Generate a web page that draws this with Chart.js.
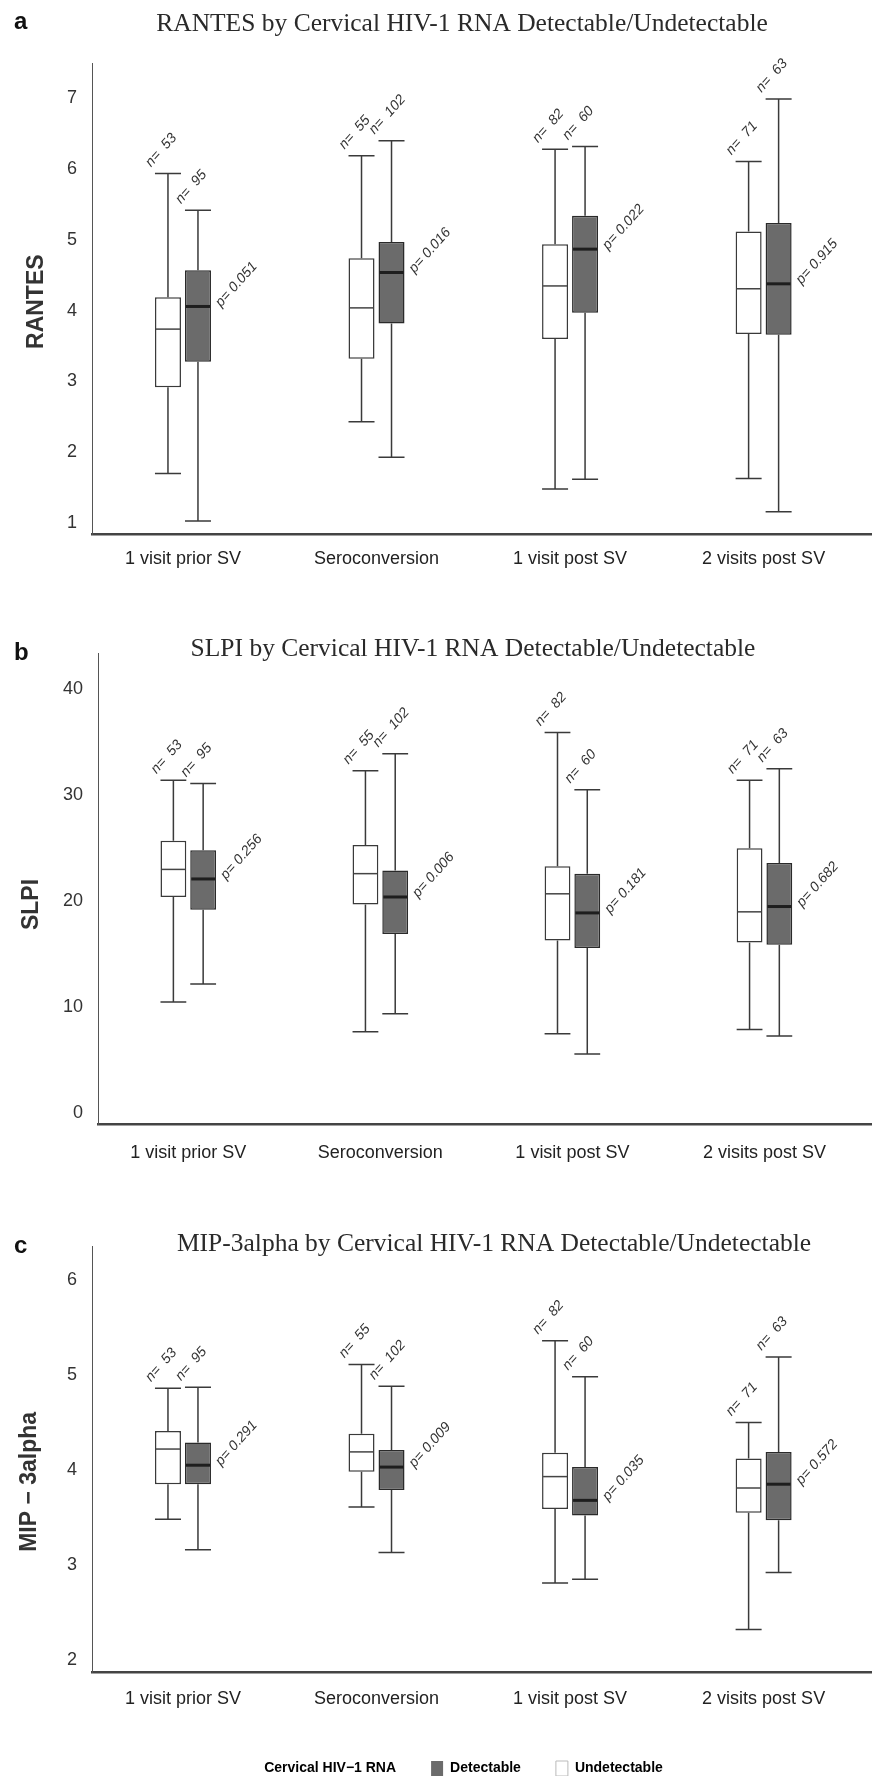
<!DOCTYPE html>
<html>
<head>
<meta charset="utf-8">
<script src="https://cdn.jsdelivr.net/npm/chart.js@4.4.0/dist/chart.umd.min.js"></script>
<style>
    html, body { margin: 0; padding: 0; background: #fff; }
    #page { position: relative; width: 872px; height: 1776px; }
    canvas { position: absolute; left: 0; }
</style>
</head>
<body>
<div id="page">
    <canvas id="rantesChart" width="872" height="600" style="top:0"></canvas>
    <canvas id="slpiChart" width="872" height="590" style="top:600px"></canvas>
    <canvas id="mipChart" width="872" height="586" style="top:1190px"></canvas>
</div>
<script>
(function () {
    'use strict';

    const categories = ['1 visit prior SV', 'Seroconversion', '1 visit post SV', '2 visits post SV'];
    const nUndetectable = [53, 55, 82, 71];
    const nDetectable = [95, 102, 60, 63];

    // each row: [lower whisker, Q1, median, Q3, upper whisker]
    const rantesUndetectable = [
        [1.70, 2.92, 3.74, 4.19, 5.94],
        [2.43, 3.32, 4.04, 4.74, 6.19],
        [1.48, 3.60, 4.35, 4.94, 6.28],
        [1.63, 3.67, 4.31, 5.12, 6.11]
    ];
    const rantesDetectable = [
        [1.03, 3.28, 4.06, 4.57, 5.42],
        [1.93, 3.82, 4.54, 4.97, 6.40],
        [1.62, 3.97, 4.87, 5.34, 6.32],
        [1.16, 3.66, 4.38, 5.24, 6.99]
    ];
    const rantesP = ['0.051', '0.016', '0.022', '0.915'];
    const rantesTicks = [1, 2, 3, 4, 5, 6, 7];

    const slpiUndetectable = [
        [10.5, 20.4, 23.0, 25.7, 31.4],
        [7.7, 19.7, 22.6, 25.3, 32.3],
        [7.5, 16.3, 20.7, 23.3, 35.9],
        [7.9, 16.1, 19.0, 25.0, 31.4]
    ];
    const slpiDetectable = [
        [12.2, 19.2, 22.1, 24.8, 31.1],
        [9.4, 16.9, 20.4, 22.9, 33.9],
        [5.6, 15.6, 18.9, 22.6, 30.5],
        [7.3, 15.9, 19.5, 23.6, 32.5]
    ];
    const slpiP = ['0.256', '0.006', '0.181', '0.682'];
    const slpiTicks = [0, 10, 20, 30, 40];

    const mipUndetectable = [
        [3.48, 3.85, 4.22, 4.41, 4.86],
        [3.61, 3.98, 4.19, 4.38, 5.11],
        [2.81, 3.59, 3.93, 4.18, 5.36],
        [2.32, 3.55, 3.81, 4.12, 4.50]
    ];
    const mipDetectable = [
        [3.16, 3.85, 4.05, 4.29, 4.87],
        [3.13, 3.79, 4.03, 4.21, 4.88],
        [2.85, 3.52, 3.68, 4.03, 4.98],
        [2.92, 3.47, 3.85, 4.19, 5.19]
    ];
    const mipP = ['0.291', '0.009', '0.035', '0.572'];
    const mipTicks = [2, 3, 4, 5, 6];

    const SANS = '"Liberation Sans", Arial, sans-serif';
    const SERIF = '"Liberation Serif", "Times New Roman", serif';
    const DARK_FILL = '#6b6b6b';
    const LINE = '#3a3a3a';

    Chart.defaults.font.family = SANS;
    Chart.defaults.color = '#333';

    function toBars(rows) {
        return rows.map(function (r, i) {
            return { x: i + 1, y: [r[1], r[3]] };
        });
    }

    function rotatedText(ctx, text, x, y) {
        ctx.save();
        ctx.translate(x, y);
        ctx.rotate(-0.84);
        ctx.font = 'italic 14px ' + SANS;
        ctx.fillStyle = '#333';
        ctx.textAlign = 'left';
        ctx.textBaseline = 'alphabetic';
        ctx.fillText(text, 0, 0);
        ctx.restore();
    }

    // whiskers, caps, medians and the n= / p= notes, placed on the bars the library laid out
    const boxExtras = {
        id: 'boxExtras',
        afterLayout(chart, args, opts) {
            // the source figure does not centre its titles on the plot, nudge them sideways
            if (opts.titleShift && chart.titleBlock) {
                chart.titleBlock.left += opts.titleShift;
                chart.titleBlock.right += opts.titleShift;
            }
            if (opts.legendShift && chart.legend) {
                chart.legend.left += opts.legendShift;
                chart.legend.right += opts.legendShift;
            }
        },
        afterDatasetsDraw(chart, args, opts) {
            const ctx = chart.ctx;
            const y = chart.scales.y;
            ctx.save();
            chart.data.datasets.forEach(function (ds, di) {
                const meta = chart.getDatasetMeta(di);
                meta.data.forEach(function (bar, i) {
                    const s = ds.stats[i];
                    const half = bar.width / 2;
                    const x = bar.x;
                    const yLo = y.getPixelForValue(s[0]);
                    const yQ1 = y.getPixelForValue(s[1]);
                    const yMed = y.getPixelForValue(s[2]);
                    const yQ3 = y.getPixelForValue(s[3]);
                    const yHi = y.getPixelForValue(s[4]);

                    ctx.strokeStyle = LINE;
                    ctx.lineWidth = 1.5;
                    ctx.beginPath();
                    ctx.moveTo(x, yQ3); ctx.lineTo(x, yHi);
                    ctx.moveTo(x, yQ1); ctx.lineTo(x, yLo);
                    ctx.moveTo(x - half, yHi); ctx.lineTo(x + half, yHi);
                    ctx.moveTo(x - half, yLo); ctx.lineTo(x + half, yLo);
                    ctx.stroke();

                    ctx.strokeStyle = ds.medianColor;
                    ctx.lineWidth = ds.medianWidth;
                    ctx.beginPath();
                    ctx.moveTo(x - half + 1, yMed); ctx.lineTo(x + half - 1, yMed);
                    ctx.stroke();

                    rotatedText(ctx, 'n=  ' + ds.counts[i], x - half - 4, yHi - 6);
                    if (ds.pValues) {
                        rotatedText(ctx, 'p= ' + ds.pValues[i], x + half + 10, yMed + 1);
                    }
                });
            });
            ctx.font = 'bold 24px ' + SANS;
            ctx.fillStyle = '#111';
            ctx.textBaseline = 'middle';
            ctx.textAlign = 'left';
            ctx.fillText(opts.letter, 14, opts.letterY);
            ctx.restore();
        }
    };

    function boxChart(id, cfg) {
        return new Chart(document.getElementById(id), {
            type: 'bar',
            data: {
                datasets: [{
                    label: 'Undetectable',
                    data: toBars(cfg.und),
                    stats: cfg.und,
                    counts: nUndetectable,
                    backgroundColor: '#ffffff',
                    borderColor: LINE,
                    borderWidth: 1.5,
                    borderSkipped: false,
                    medianColor: '#444',
                    medianWidth: 1.5
                }, {
                    label: 'Detectable',
                    data: toBars(cfg.det),
                    stats: cfg.det,
                    counts: nDetectable,
                    pValues: cfg.p,
                    backgroundColor: DARK_FILL,
                    borderColor: '#2a2a2a',
                    borderWidth: 1.5,
                    borderSkipped: false,
                    medianColor: '#1e1e1e',
                    medianWidth: 3
                }]
            },
            options: {
                responsive: false,
                animation: false,
                devicePixelRatio: 1,
                categoryPercentage: 0.31,
                barPercentage: 0.867,
                layout: { padding: { left: 48, right: 0, top: 0, bottom: cfg.bottomPad || 0 } },
                scales: {
                    x: {
                        type: 'linear',
                        min: 0.53,
                        max: 4.56,
                        offset: false,
                        afterBuildTicks: function (axis) {
                            axis.ticks = categories.map(function (c, i) { return { value: i + 1 }; });
                        },
                        afterFit: function (axis) { axis.height = cfg.xHeight; },
                        grid: { display: false, drawTicks: false },
                        border: { display: true, color: '#444', width: 2.5 },
                        ticks: {
                            padding: cfg.xPad,
                            color: '#222',
                            font: { size: 18 },
                            maxRotation: 0,
                            autoSkip: false,
                            callback: function (v) { return categories[v - 1]; }
                        }
                    },
                    y: {
                        min: cfg.yMin,
                        max: cfg.yMax,
                        stacked: false,
                        afterBuildTicks: function (axis) {
                            axis.ticks = cfg.ticks.map(function (v) { return { value: v }; });
                        },
                        afterFit: function (axis) { axis.width = cfg.yWidth; },
                        grid: { display: false, drawTicks: false },
                        border: { display: true, color: '#555', width: 1 },
                        ticks: { padding: 15, color: '#333', font: { size: 18 } },
                        title: {
                            display: true,
                            text: cfg.yTitle,
                            color: '#333',
                            font: { size: 23, weight: 'bold' },
                            padding: { top: cfg.yTitlePad, bottom: 0 }
                        }
                    }
                },
                plugins: {
                    title: {
                        display: true,
                        text: cfg.title,
                        color: '#2a2a2a',
                        font: { family: SERIF, size: 25.5, weight: 'normal' },
                        padding: { top: cfg.titleTop, bottom: cfg.titleBottom }
                    },
                    legend: {
                        display: !!cfg.legend,
                        position: 'bottom',
                        labels: {
                            boxWidth: 12,
                            boxHeight: 15,
                            padding: 35,
                            color: '#222',
                            font: { size: 14, weight: 'bold' },
                            generateLabels: function () {
                                return [
                                    { text: 'Cervical HIV\u22121 RNA', fillStyle: 'rgba(0,0,0,0)', strokeStyle: 'rgba(0,0,0,0)', lineWidth: 0 },
                                    { text: 'Detectable', fillStyle: DARK_FILL, strokeStyle: DARK_FILL, lineWidth: 0 },
                                    { text: 'Undetectable', fillStyle: '#ffffff', strokeStyle: '#bbbbbb', lineWidth: 1 }
                                ];
                            }
                        }
                    },
                    tooltip: { enabled: false },
                    boxExtras: {
                        letter: cfg.letter,
                        letterY: cfg.letterY,
                        titleShift: cfg.titleShift,
                        legendShift: cfg.legendShift
                    }
                }
            },
            plugins: [boxExtras]
        });
    }

    boxChart('rantesChart', {
        letter: 'a', letterY: 22,
        title: 'RANTES by Cervical HIV-1 RNA Detectable/Undetectable',
        titleTop: 9.4, titleBottom: 23, titleShift: 2,
        und: rantesUndetectable, det: rantesDetectable, p: rantesP,
        ticks: rantesTicks, yMin: 0.845, yMax: 7.5,
        yTitle: 'RANTES ', yTitlePad: -25, yWidth: 44,
        xHeight: 66, xPad: 14
    });

    boxChart('slpiChart', {
        letter: 'b', letterY: 53,
        title: 'SLPI by Cervical HIV-1 RNA Detectable/Undetectable',
        titleTop: 34.4, titleBottom: -12, titleShift: 13,
        und: slpiUndetectable, det: slpiDetectable, p: slpiP,
        ticks: slpiTicks, yMin: -1.0, yMax: 43.4,
        yTitle: 'SLPI     ', yTitlePad: -30, yWidth: 50,
        xHeight: 66, xPad: 18
    });

    boxChart('mipChart', {
        letter: 'c', letterY: 56,
        title: 'MIP-3alpha by Cervical HIV-1 RNA Detectable/Undetectable',
        titleTop: 39.4, titleBottom: -13.3, titleShift: 34,
        und: mipUndetectable, det: mipDetectable, p: mipP,
        ticks: mipTicks, yMin: 1.87, yMax: 6.35,
        yTitle: 'MIP \u2212 3alpha       ', yTitlePad: -32, yWidth: 44,
        xHeight: 53.7, xPad: 16,
        bottomPad: -10, legend: true, legendShift: -6
    });
})();
</script>
</body>
</html>
